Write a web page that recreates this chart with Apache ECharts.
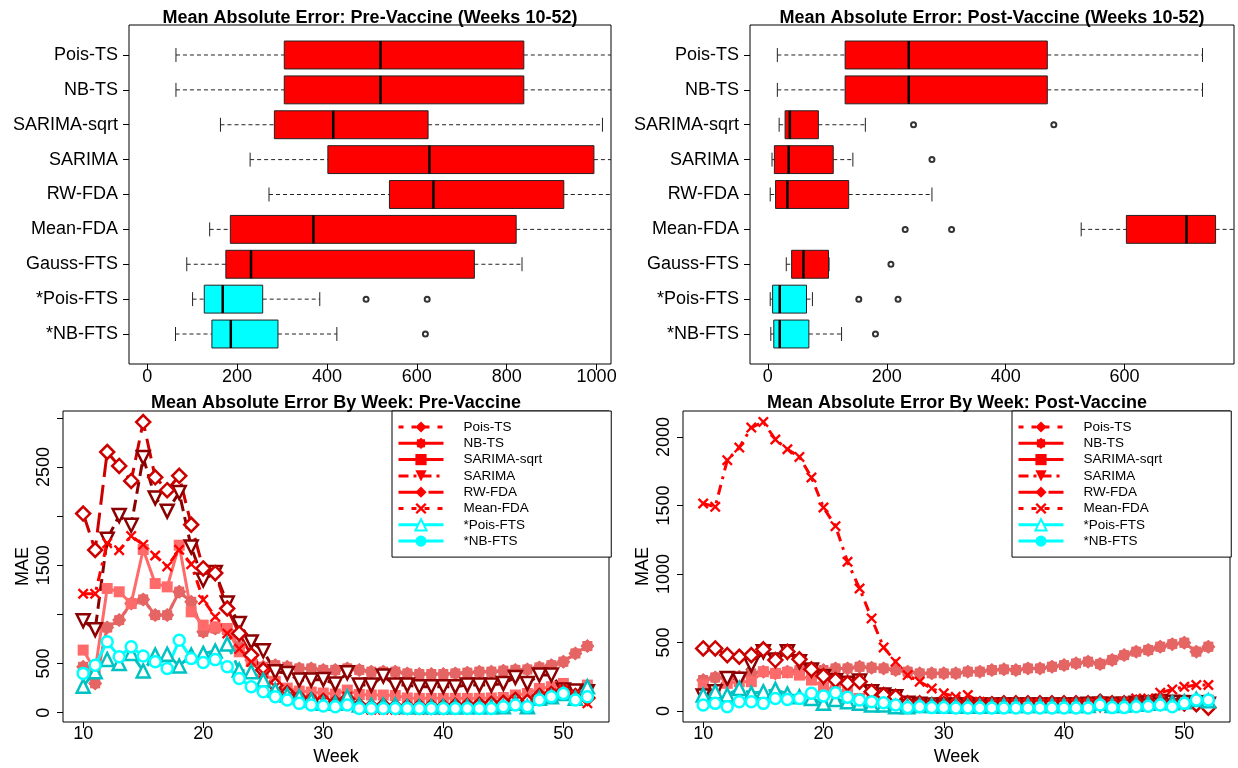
<!DOCTYPE html>
<html>
<head>
<meta charset="utf-8">
<script src="https://cdn.jsdelivr.net/npm/echarts@6/dist/echarts.min.js"></script>
<style>html,body{margin:0;padding:0;background:#fff}#main{width:1238px;height:768px}</style>
</head>
<body>
<div id="main"></div>
<script>
// ---- boxplot data (MAE, weeks 10-52) ----
const methods = ['Pois-TS', 'NB-TS', 'SARIMA-sqrt', 'SARIMA', 'RW-FDA', 'Mean-FDA', 'Gauss-FTS', '*Pois-FTS', '*NB-FTS'];
const preLow  = [64, 64, 163, 229, 271, 139, 88, 101, 63];
const preQ1   = [305, 305, 283, 402, 539, 185, 175, 127, 144];
const preMed  = [519, 519, 414, 628, 637, 370, 231, 168, 186];
const preQ3   = [838, 838, 625, 994, 927, 821, 728, 257, 291];
const preHigh = [1100, 1100, 1013, 1100, 1100, 1100, 834, 384, 422];
const preOut  = [[], [], [], [], [], [], [], [487, 623], [619]];
const postLow  = [16, 16, 19, 7, 4, 527, 31, 4, 5];
const postQ1   = [130, 130, 29, 11, 13, 603, 40, 8, 10];
const postMed  = [237, 237, 37, 35, 33, 704, 60, 20, 20];
const postQ3   = [470, 470, 85, 110, 136, 753, 102, 65, 69];
const postHigh = [731, 731, 164, 143, 276, 800, 103, 75, 124];
const postOut  = [[], [], [245, 481], [276], [], [231, 309], [207], [153, 219], [181]];

// ---- weekly MAE ----
const weeks = [10, 11, 12, 13, 14, 15, 16, 17, 18, 19, 20, 21, 22, 23, 24, 25, 26, 27, 28, 29, 30,
  31, 32, 33, 34, 35, 36, 37, 38, 39, 40, 41, 42, 43, 44, 45, 46, 47, 48, 49, 50, 51, 52];
const lineNames = ['Pois-TS', 'NB-TS', 'SARIMA-sqrt', 'SARIMA', 'RW-FDA', 'Mean-FDA', '*Pois-FTS', '*NB-FTS'];

// Pois-TS and NB-TS give the same values
const preTS = [467, 298, 867, 942, 1111, 1152, 993, 993, 1230, 1128, 823, 857, 840, 671, 535, 467, 484, 467, 450, 450,
  434, 434, 450, 434, 417, 417, 417, 400, 393, 393, 393, 400, 406, 417, 417, 427, 434, 440, 461, 484, 518, 603, 678];
const preSqrt = [637, 430, 1264, 1230, 1111, 1660, 1314, 1280, 1704, 1026, 891, 874, 857, 620, 520, 400, 320, 250, 220, 210,
  200, 190, 230, 185, 180, 180, 175, 150, 146, 146, 146, 146, 146, 146, 150, 155, 180, 196, 247, 264, 298, 230, 281];
const preSarima = [935, 845, 1765, 2005, 1907, 2595, 2185, 2050, 2240, 1685, 1350, 1425, 1115, 908, 720, 630, 417, 400, 332, 332,
  339, 291, 406, 281, 281, 373, 281, 281, 264, 264, 264, 264, 281, 281, 281, 298, 359, 298, 383, 383, 230, 220, 213];
const preRW = [2026, 1655, 2652, 2510, 2358, 2957, 2395, 2263, 2410, 1912, 1467, 1420, 1060, 806, 586, 434, 280, 200, 150, 130,
  120, 100, 140, 70, 60, 70, 60, 60, 60, 60, 60, 70, 70, 80, 90, 100, 130, 110, 170, 190, 220, 170, 150];
const preMean = [1210, 1210, 1725, 1653, 1797, 1709, 1599, 1488, 1657, 1511, 1148, 976, 806, 650, 518, 400, 264, 163, 129, 129,
  120, 78, 163, 44, 30, 30, 30, 35, 30, 30, 30, 35, 40, 44, 50, 61, 129, 78, 163, 196, 230, 180, 95];
const prePoisFTS = [270, 417, 542, 501, 603, 425, 586, 595, 475, 586, 603, 628, 700, 434, 417, 332, 230, 180, 163, 129,
  95, 95, 163, 78, 78, 78, 78, 61, 61, 61, 61, 61, 61, 61, 61, 61, 95, 61, 146, 163, 196, 146, 264];
const preNBFTS = [400, 484, 721, 569, 671, 576, 518, 450, 738, 552, 510, 540, 467, 349, 264, 213, 163, 129, 95, 78,
  68, 61, 78, 44, 44, 44, 44, 44, 44, 44, 44, 44, 44, 44, 44, 61, 78, 61, 129, 163, 196, 129, 163];

const postTS = [226, 245, 238, 250, 275, 287, 275, 287, 299, 299, 299, 311, 311, 323, 316, 311, 299, 287, 275, 275,
  275, 275, 287, 287, 299, 304, 299, 311, 311, 323, 335, 348, 360, 343, 372, 408, 433, 445, 469, 488, 498, 433, 469];
const postSqrt = [190, 153, 202, 214, 214, 287, 275, 280, 262, 226, 177, 153, 141, 92, 68, 56, 50, 44, 44, 40,
  40, 40, 40, 40, 40, 40, 40, 40, 40, 40, 40, 44, 44, 56, 50, 56, 61, 68, 68, 75, 80, 80, 80];
const postSarima = [109, 141, 238, 231, 335, 433, 372, 433, 360, 299, 250, 221, 202, 219, 141, 117, 104, 56, 50, 44,
  44, 44, 44, 44, 44, 44, 44, 44, 44, 44, 44, 44, 50, 50, 50, 50, 56, 61, 70, 65, 60, 60, 50];
const postRW = [457, 457, 408, 396, 408, 450, 372, 433, 377, 304, 255, 226, 202, 214, 141, 117, 104, 56, 56, 44,
  50, 50, 50, 50, 50, 56, 56, 56, 56, 56, 56, 56, 56, 68, 56, 56, 61, 61, 61, 56, 56, 50, 25];
const postMean = [1514, 1490, 1830, 1922, 2068, 2109, 1981, 1910, 1854, 1704, 1485, 1349, 1089, 894, 676, 464, 360, 262, 214, 165,
  129, 104, 117, 68, 56, 56, 56, 56, 56, 56, 56, 56, 56, 68, 56, 68, 92, 92, 134, 158, 177, 190, 190];
const postPoisFTS = [117, 141, 117, 165, 129, 141, 158, 124, 104, 92, 56, 85, 68, 56, 44, 44, 32, 32, 40, 40,
  35, 35, 35, 35, 35, 40, 40, 40, 40, 40, 40, 40, 40, 56, 40, 44, 50, 56, 68, 61, 68, 85, 75];
const postNBFTS = [44, 56, 32, 68, 68, 56, 92, 85, 92, 129, 109, 134, 100, 80, 68, 61, 44, 25, 32, 25,
  25, 22, 22, 22, 22, 22, 22, 22, 22, 22, 22, 22, 22, 44, 25, 25, 32, 35, 44, 32, 56, 80, 80];

const preLines = [preTS, preTS, preSqrt, preSarima, preRW, preMean, prePoisFTS, preNBFTS];
const postLines = [postTS, postTS, postSqrt, postSarima, postRW, postMean, postPoisFTS, postNBFTS];

// ---- styles ----
const FONT = 'Liberation Sans';
const RED = '#FF0000', CYAN = '#00FFFF';
const blob = 'path://M100,50L86.96,65.31L85.36,85.36L65.31,86.96L50,100L34.69,86.96L14.64,85.36L13.04,65.31L0,50L13.04,34.69L14.64,14.64L34.69,13.04L50,0L65.31,13.04L85.36,14.64L86.96,34.69Z';
const cross = 'path://M0,15L15,0L50,35L85,0L100,15L65,50L100,85L85,100L50,65L15,100L0,85L35,50Z';
const lineColors = ['#E56565', '#E56565', '#FF6B6B', '#8B0000', '#CD0000', '#FF0000', '#00C2C2', '#00FFFF'];
const lineSymbols = ['diamond', blob, 'rect', 'triangle', 'diamond', cross, 'triangle', 'circle'];
const symbolSizes = [13, 14, 11, 13, 14, 11, 13, 11];
const symbolRotate = [0, 0, 0, 180, 0, 0, 0, 0];
const hollow = [false, false, false, true, true, false, true, true];
const lineDash = [[4, 7], 'solid', 'solid', [12, 6], [20, 8], [10, 6, 3, 6], [16, 7], 'solid'];
const legendColors = [RED, RED, RED, RED, RED, RED, CYAN, CYAN];
const legendDash = [[5, 8], 'solid', 'solid', [10, 5, 3, 5], [24, 6], [5, 8], [20, 5], 'solid'];

const chart = echarts.init(document.getElementById('main'));

function boxSeries(axis, low, q1, med, q3, high) {
  return {
    type: 'custom', xAxisIndex: axis, yAxisIndex: axis, clip: true,
    encode: {x: [1, 2, 3, 4, 5], y: 0},
    data: methods.map((m, i) => ({
      value: [i + 1, low[i], q1[i], med[i], q3[i], high[i]],
      itemStyle: {color: m.charAt(0) === '*' ? CYAN : RED}
    })),
    renderItem: function (params, api) {
      const pos = api.value(0);
      const unit = Math.abs(api.size([0, 1])[1]);
      const half = unit * 0.4, cap = unit * 0.2;
      const pt = k => api.coord([api.value(k), pos]);
      const lo = pt(1), b1 = pt(2), md = pt(3), b3 = pt(4), hi = pt(5);
      const y = lo[1];
      const dash = {stroke: '#222', lineWidth: 1, lineDash: [4, 3]};
      const solid = {stroke: '#222', lineWidth: 1};
      return {type: 'group', children: [
        {type: 'line', shape: {x1: lo[0], y1: y, x2: b1[0], y2: y}, style: dash},
        {type: 'line', shape: {x1: b3[0], y1: y, x2: hi[0], y2: y}, style: dash},
        {type: 'line', shape: {x1: lo[0], y1: y - cap, x2: lo[0], y2: y + cap}, style: solid},
        {type: 'line', shape: {x1: hi[0], y1: y - cap, x2: hi[0], y2: y + cap}, style: solid},
        {type: 'rect', shape: {x: b1[0], y: y - half, width: b3[0] - b1[0], height: half * 2},
          style: {fill: api.visual('color'), stroke: '#222', lineWidth: 1}},
        {type: 'line', shape: {x1: md[0], y1: y - half, x2: md[0], y2: y + half}, style: {stroke: '#000', lineWidth: 2.5}}
      ]};
    }
  };
}

function outlierSeries(axis, out) {
  const pts = [];
  out.forEach((list, i) => list.forEach(v => pts.push([v, i + 1])));
  return {
    type: 'scatter', xAxisIndex: axis, yAxisIndex: axis, data: pts,
    symbol: 'emptyCircle', symbolSize: 5,
    itemStyle: {color: '#000', borderColor: '#000', borderWidth: 1}
  };
}

function lineSeries(axis, sets) {
  return lineNames.map((name, i) => ({
    type: 'line', name: name, xAxisIndex: axis, yAxisIndex: axis,
    data: weeks.map((w, k) => [w, sets[i][k]]),
    symbol: lineSymbols[i], symbolSize: symbolSizes[i], symbolRotate: symbolRotate[i],
    lineStyle: {color: lineColors[i], width: 3, type: lineDash[i]},
    itemStyle: hollow[i]
      ? {color: '#fff', borderColor: lineColors[i], borderWidth: 2.5}
      : {color: lineColors[i], borderWidth: 0},
    emphasis: {disabled: true}
  }));
}

const plain = v => String(v);
const tickStyle = {show: true, length: 6, lineStyle: {color: '#000', width: 1}};
function xAxisCfg(grid, min, max, ticks, margin) {
  return {
    type: 'value', gridIndex: grid, min: min, max: max,
    axisLine: {show: false, onZero: false}, splitLine: {show: false},
    axisTick: Object.assign({customValues: ticks}, tickStyle),
    axisLabel: {customValues: ticks, color: '#000', fontSize: 18, fontFamily: FONT, margin: margin, formatter: plain}
  };
}
function methodAxis(grid) {
  const pos = methods.map((m, i) => i + 1);
  return {
    type: 'value', gridIndex: grid, min: 0.14, max: 9.86, inverse: true,
    axisLine: {show: false, onZero: false}, splitLine: {show: false},
    axisTick: Object.assign({customValues: pos}, tickStyle),
    axisLabel: {customValues: pos, color: '#000', fontSize: 18, fontFamily: FONT, margin: 11,
      formatter: v => methods[Math.round(v) - 1]}
  };
}
function maeAxis(grid, min, max, ticks, labels) {
  return {
    type: 'value', gridIndex: grid, min: min, max: max,
    name: 'MAE', nameLocation: 'middle', nameGap: 31, nameRotate: 90,
    nameTextStyle: {color: '#000', fontSize: 18, fontFamily: FONT},
    axisLine: {show: false, onZero: false}, splitLine: {show: false},
    axisTick: Object.assign({customValues: ticks}, tickStyle),
    axisLabel: {customValues: labels, color: '#000', fontSize: 18, fontFamily: FONT, rotate: 90, margin: 10, formatter: plain}
  };
}
function weekAxis(grid) {
  const a = xAxisCfg(grid, 8.32, 53.8, [10, 20, 30, 40, 50], 3);
  a.name = 'Week'; a.nameLocation = 'middle'; a.nameGap = 26;
  a.nameTextStyle = {color: '#000', fontSize: 18, fontFamily: FONT};
  return a;
}
function legendCfg(left) {
  return {
    left: left, top: 411, orient: 'vertical', selectedMode: false,
    backgroundColor: '#fff', borderColor: '#000', borderWidth: 1, borderRadius: 0,
    padding: [9, 69, 9, 5],
    itemWidth: 45, itemHeight: 14, itemGap: 2.3,
    textStyle: {color: '#000', fontSize: 13.5, fontFamily: FONT, lineHeight: 14, padding: [0, 0, 0, 15]},
    data: lineNames.map((n, i) => ({
      name: n,
      itemStyle: i === 6
        ? {color: '#fff', borderColor: CYAN, borderWidth: 2}
        : {color: legendColors[i], borderColor: legendColors[i], borderWidth: 0},
      lineStyle: {color: legendColors[i], width: 3, type: legendDash[i]}
    }))
  };
}

const titles = [
  {text: 'Mean Absolute Error: Pre-Vaccine (Weeks 10-52)', x: 370, y: 18},
  {text: 'Mean Absolute Error: Post-Vaccine (Weeks 10-52)', x: 992, y: 18},
  {text: 'Mean Absolute Error By Week: Pre-Vaccine', x: 336, y: 403},
  {text: 'Mean Absolute Error By Week: Post-Vaccine', x: 957, y: 403}
];

const gridBox = {show: true, borderColor: '#000', borderWidth: 1, backgroundColor: 'transparent'};
chart.setOption({
  animation: false,
  backgroundColor: '#fff',
  textStyle: {fontFamily: FONT},
  grid: [
    Object.assign({left: 129, top: 25, width: 482, height: 339}, gridBox),
    Object.assign({left: 750, top: 25, width: 484, height: 339}, gridBox),
    Object.assign({left: 63, top: 411, width: 546, height: 311}, gridBox),
    Object.assign({left: 683, top: 411, width: 547, height: 311}, gridBox)
  ],
  xAxis: [
    xAxisCfg(0, -40.5, 1032, [0, 200, 400, 600, 800, 1000], 4),
    xAxisCfg(1, -30, 784, [0, 200, 400, 600], 4),
    weekAxis(2),
    weekAxis(3)
  ],
  yAxis: [
    methodAxis(0),
    methodAxis(1),
    maeAxis(2, -94.5, 3069, [0, 500, 1000, 1500, 2000, 2500, 3000], [0, 500, 1500, 2500]),
    maeAxis(3, -80, 2189, [0, 500, 1000, 1500, 2000], [0, 500, 1000, 1500, 2000])
  ],
  legend: [legendCfg(392), legendCfg(1012)],
  graphic: titles.map(t => ({
    type: 'text', x: t.x, y: t.y, z: 10,
    style: {text: t.text, fill: '#000', fontSize: 18, fontWeight: 'bold', fontFamily: FONT,
      align: 'center', verticalAlign: 'middle'}
  })),
  series: [
    boxSeries(0, preLow, preQ1, preMed, preQ3, preHigh),
    outlierSeries(0, preOut),
    boxSeries(1, postLow, postQ1, postMed, postQ3, postHigh),
    outlierSeries(1, postOut)
  ].concat(lineSeries(2, preLines), lineSeries(3, postLines))
});
</script>
</body>
</html>
